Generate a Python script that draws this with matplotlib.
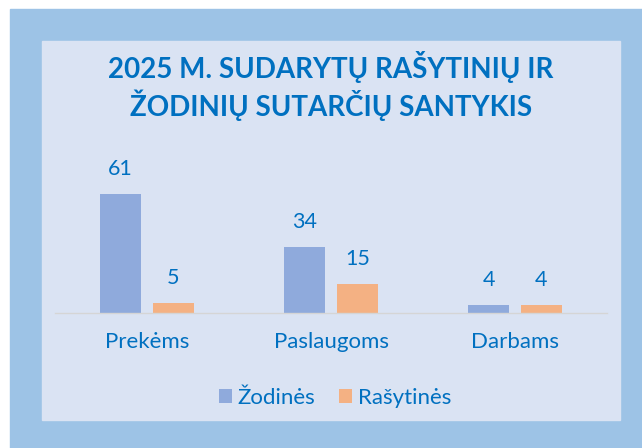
import matplotlib.pyplot as plt
import matplotlib.patches as patches
import numpy as np

categories = ['Prekėms', 'Paslaugoms', 'Darbams']
zodines = [61, 34, 4]
rasytines = [5, 15, 4]
series_names = ['Žodinės', 'Rašytinės']

text_blue = '#0070C0'
bar_blue = '#8FAADC'
bar_orange = '#F4B183'

plt.rcParams['font.family'] = ['Lato', 'DejaVu Sans']

fig = plt.figure(figsize=(6.42, 4.48), dpi=100)
W, H = 642, 448

# outer and inner panels
fig.patches.append(patches.Rectangle((10 / W, 0), 1 - 10 / W, 1 - 9 / H,
                                     transform=fig.transFigure, color='#9DC3E6', zorder=-2))
fig.patches.append(patches.Rectangle((42 / W, 1 - 420 / H), (620 - 42) / W, (420 - 41) / H,
                                     transform=fig.transFigure, color='#DAE3F3', zorder=-1))

fig.text(331 / W, 1 - 86 / H, '2025 M. SUDARYTŲ RAŠYTINIŲ IR\nŽODINIŲ SUTARČIŲ SANTYKIS',
         ha='center', va='center', fontsize=20, fontweight='bold', color=text_blue,
         linespacing=1.25)

ax = fig.add_axes([55 / W, 1 - 313 / H, 552 / W, 136.2 / H])
ax.set_facecolor('none')
x = np.arange(len(categories))
bw = 0.225
off = 0.143
b1 = ax.bar(x - off, zodines, bw, color=bar_blue, label=series_names[0])
b2 = ax.bar(x + off, rasytines, bw, color=bar_orange, label=series_names[1])
ax.set_xlim(-0.5, 2.5)
ax.set_ylim(0, 70)

for bars, vals in ((b1, zodines), (b2, rasytines)):
    for b, v in zip(bars, vals):
        ax.annotate(str(v), (b.get_x() + b.get_width() / 2, v), xytext=(0, 18),
                    textcoords='offset points', ha='center', va='center',
                    fontsize=15.5, color=text_blue)

for s in ['top', 'left', 'right']:
    ax.spines[s].set_visible(False)
ax.spines['bottom'].set_color('#D5D5D5')
ax.spines['bottom'].set_linewidth(1.0)
ax.set_yticks([])
ax.set_xticks(x)
ax.set_xticklabels(categories, fontsize=16, color=text_blue)
ax.tick_params(axis='x', length=0, pad=14)

fig.legend(loc='center', bbox_to_anchor=(335 / W, 1 - 398 / H), ncol=2, frameon=False,
           fontsize=16, labelcolor=text_blue, handlelength=0.6, handleheight=0.6,
           handletextpad=0.25, columnspacing=1.05)

fig.savefig('out.png', dpi=100)
